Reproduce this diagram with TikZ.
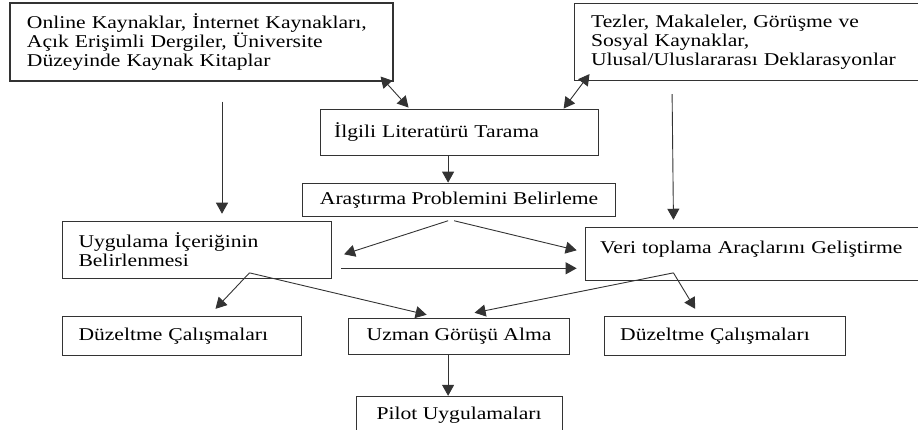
\documentclass[tikz,border=0pt]{standalone}
\usepackage{fontspec}
\setmainfont{Liberation Serif}[FakeStretch=1.2]
\usetikzlibrary{positioning,arrows.meta}

\tikzset{
  kutu/.style={rectangle, draw=black!80, line width=1.1pt, inner ysep=3pt, font=\fontsize{18}{19}\selectfont},
  link/.style={draw=black!80, line width=0.9pt},
  arr/.style={link, -{Triangle[length=11pt,width=12pt]}},
  darr/.style={link, {Triangle[length=11pt,width=12pt]}-{Triangle[length=11pt,width=12pt]}}
}

\begin{document}
\begin{tikzpicture}[x=1pt, y=1pt]
\useasboundingbox (0,0) rectangle (918,-430);

\node [kutu, text width=349pt, inner xsep=17pt, minimum height=78pt, align=left] (online) at (201.5,-42) {Online Kaynaklar, İnternet Kaynakları,\\ Açık Erişimli Dergiler, Üniversite\\ Düzeyinde Kaynak Kitaplar};
\node [kutu, text width=310pt, inner xsep=17pt, minimum height=77pt, align=left] (tezler) [right=180pt of online] {Tezler, Makaleler, Görüşme ve\\ Sosyal Kaynaklar,\\ Ulusal/Uluslararası Deklarasyonlar};

\node [kutu, text width=250pt, inner xsep=14pt, minimum height=46pt, align=left] (tarama) [below right=27pt and -74pt of online] {İlgili Literatürü Tarama};
\node [kutu, minimum width=313pt, minimum height=33pt] (problem) [below=27pt of tarama] {Araştırma Problemini Belirleme};

\node [kutu, text width=237pt, inner xsep=16pt, minimum height=57pt, align=left] (icerik) [below left=4pt and -30pt of problem] {Uygulama İçeriğinin\\ Belirlenmesi};
\node [kutu, text width=304.5pt, inner xsep=15pt, inner ysep=4pt, text height=22pt, text depth=23pt, align=left] (veri) [below right=10pt and -31.5pt of problem] {Veri toplama Araçlarını Geliştirme};

\node [kutu, minimum width=221pt, minimum height=36pt] (uzman) [below=101pt of problem] {Uzman Görüşü Alma};
\node [kutu, text width=207pt, inner xsep=16pt, minimum height=39pt, align=left] (duzA) [below right=37pt and 0pt of icerik.south west] {Düzeltme Çalışmaları};
\node [kutu, text width=209pt, inner xsep=16pt, minimum height=39pt, align=left] (duzB) [below right=35pt and 19pt of veri.south west] {Düzeltme Çalışmaları};
\node [kutu, minimum width=206pt, minimum height=37pt] (pilot) [below=41pt of uzman] {Pilot Uygulamaları};

\coordinate (icerikB) at ([xshift=52.5pt,yshift=6pt]icerik.south);
\coordinate (veriB) at ([xshift=-79pt,yshift=8pt]veri.south);

\draw[darr] ([xshift=-13pt,yshift=5pt]online.south east) to ([xshift=89pt,yshift=1pt]tarama.north west);
\draw[darr] ([xshift=16pt,yshift=7pt]tezler.south west) to ([xshift=-35pt]tarama.north east);
\draw[arr] ([xshift=20.5pt,yshift=-20pt]online.south) to ([xshift=25pt,yshift=7pt]icerik.north);
\draw[arr] ([xshift=-74pt,yshift=-13pt]tezler.south) to ([xshift=-79pt,yshift=7pt]veri.north);
\draw[arr] ([xshift=-11pt]tarama.south) to ([xshift=-11pt]problem.north);

\draw[arr] ([xshift=-11pt,yshift=-4pt]problem.south) to ([xshift=12pt,yshift=-4.5pt]icerik.east);
\draw[arr] ([xshift=-5pt,yshift=-4pt]problem.south) to ([xshift=-8pt,yshift=3.5pt]veri.west);
\draw[arr] ([xshift=9pt,yshift=-18.5pt]icerik.east) to ([xshift=-8pt,yshift=-14.5pt]veri.west);

\draw[arr] (icerikB) to ([xshift=33.5pt,yshift=7pt]duzA.north);
\draw[arr] (icerikB) to ([xshift=-32.5pt,yshift=3pt]uzman.north);
\draw[arr] (veriB) to ([xshift=-29.5pt,yshift=7pt]duzB.north);
\draw[arr] (veriB) to ([xshift=15.5pt,yshift=5pt]uzman.north);
\draw[arr] ([xshift=-11pt]uzman.south) to ([xshift=-11pt]pilot.north);

\end{tikzpicture}
\end{document}
